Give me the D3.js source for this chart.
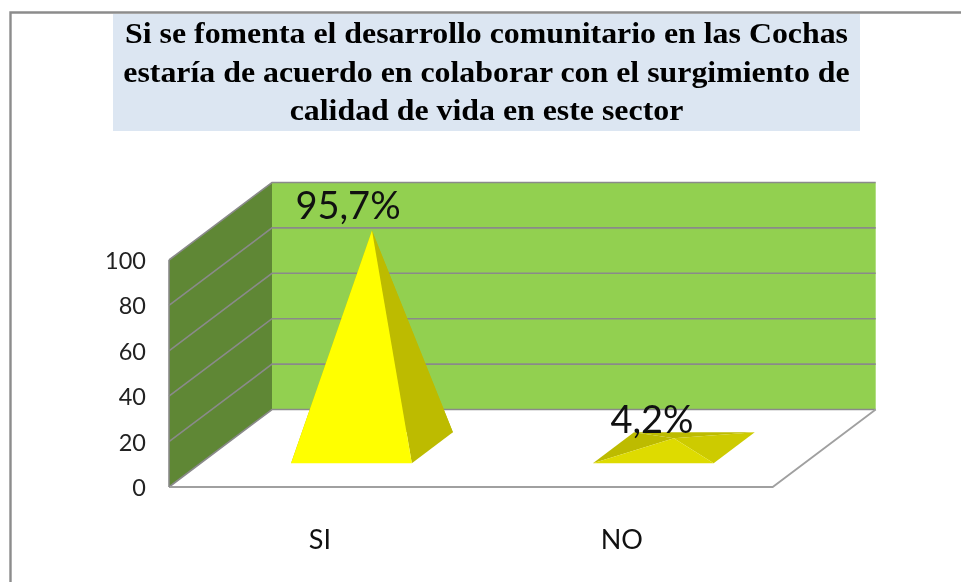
<!DOCTYPE html>
<html><head><meta charset="utf-8">
<script src="https://cdn.jsdelivr.net/npm/d3@7"></script>
<style>html,body{margin:0;padding:0;background:#fff;overflow:hidden}svg{display:block;filter:blur(0.45px)}</style>
</head><body><div id="c"></div>
<script>
const categories = ["SI", "NO"];
const values = [95.7, 4.2];
const valueLabels = ["95,7%", "4,2%"];
const yTicks = [0, 20, 40, 60, 80, 100];
const titleLines = [
  "Si se fomenta el desarrollo comunitario en las Cochas",
  "estaría de acuerdo en colaborar con el surgimiento de",
  "calidad de vida en este sector"
];

const W = 961, H = 582;
const svg = d3.select("#c").append("svg").attr("width", W).attr("height", H);

// Frame
svg.append("path").attr("d", "M961,12.5H10.5V582").attr("fill", "none").attr("stroke", "#8c8c8c").attr("stroke-width", 2.4);

// Title
svg.append("rect").attr("x", 113).attr("y", 14).attr("width", 747).attr("height", 117).attr("fill", "#dce6f2");
svg.append("g").selectAll("text").data(titleLines).join("text")
  .attr("transform", (d, i) => `translate(486.5,${43 + i * 38.5}) scale(1.08,1)`)
  .attr("text-anchor", "middle")
  .attr("font-family", "'Liberation Serif', serif").attr("font-weight", "bold")
  .attr("font-size", 29.5).attr("fill", "#000").text(d => d);

// 3D projection: x along category axis, y value, depth t in 0..1
const x = d3.scaleBand().domain(categories).range([169, 772.7]);
const y = d3.scaleLinear().domain([0, 100]).range([487, 260]);
const depthX = d3.scaleLinear().domain([0, 1]).range([0, 103]);
const depthY = d3.scaleLinear().domain([0, 1]).range([0, -77.5]);
const proj = (px, v, t) => [px + depthX(t), y(v) + depthY(t)];
const poly = pts => "M" + pts.map(p => p.join(",")).join("L") + "Z";
const x0 = x.range()[0], x1 = x.range()[1];
const yMax = yTicks[yTicks.length - 1];

// Back wall
svg.append("path").attr("d", poly([proj(x0,0,1), proj(x1,0,1), proj(x1,yMax,1), proj(x0,yMax,1)])).attr("fill", "#92d050");
// Side wall
svg.append("path").attr("d", poly([proj(x0,0,0), proj(x0,0,1), proj(x0,yMax,1), proj(x0,yMax,0)])).attr("fill", "#5f8735");

// Gridlines
const line = d3.line();
svg.append("g").selectAll("path").data(yTicks).join("path")
  .attr("d", v => line([proj(x0,v,0), proj(x0,v,1), proj(x1,v,1)]))
  .attr("fill", "none").attr("stroke", "#8a8a8a").attr("stroke-width", 1.6);
// Floor outline and left edge
svg.append("path").attr("d", line([proj(x0,0,0), proj(x1,0,0), proj(x1,0,1)])).attr("fill", "none").attr("stroke", "#a0a0a0").attr("stroke-width", 1.8);
svg.append("path").attr("d", line([proj(x0,0,0), proj(x0,yMax,0)])).attr("fill", "none").attr("stroke", "#8a8a8a").attr("stroke-width", 1.6);

// Y labels
svg.append("g").selectAll("text").data(yTicks).join("text")
  .attr("x", 146).attr("y", v => y(v) + 9)
  .attr("text-anchor", "end").attr("font-family", "Lato, 'Open Sans', sans-serif")
  .attr("font-size", 23.5).attr("fill", "#222").text(v => v);

// Pyramids
const barW = x.bandwidth() * 0.4;
const tF = 0.306, tB = 0.705, tM = (tF + tB) / 2;
const colors = [
  {front:"#ffff00", right:"#bdbb00", left:"#bdbb00", back:"#bdbb00"},
  {front:"#dedb00", right:"#cdcb00", left:"#bdbb00", back:"#bdbb00"}
];
categories.forEach((c, i) => {
  const cx = x(c) + x.bandwidth() / 2;
  const l = cx - barW / 2, r = cx + barW / 2;
  const FL = proj(l,0,tF), FR = proj(r,0,tF), BR = proj(r,0,tB), BL = proj(l,0,tB);
  const apex = proj(cx, values[i], tM);
  const g = svg.append("g");
  g.append("path").attr("d", poly([BL, BR, apex])).attr("fill", colors[i].back);
  g.append("path").attr("d", poly([FL, BL, apex])).attr("fill", colors[i].left);
  g.append("path").attr("d", poly([FR, BR, apex])).attr("fill", colors[i].right);
  g.append("path").attr("d", poly([FL, FR, apex])).attr("fill", colors[i].front);
});

// Value labels
const labelPos = [[348, 219], [652, 433]];
svg.append("g").selectAll("text").data(valueLabels).join("text")
  .attr("x", (d, i) => labelPos[i][0]).attr("y", (d, i) => labelPos[i][1])
  .attr("text-anchor", "middle").attr("font-family", "Lato, 'Open Sans', sans-serif")
  .attr("font-size", 38).attr("fill", "#111").text(d => d);

// Category labels
svg.append("g").selectAll("text").data(categories).join("text")
  .attr("x", c => x(c) + x.bandwidth() / 2).attr("y", 549)
  .attr("text-anchor", "middle").attr("font-family", "Lato, 'Open Sans', sans-serif")
  .attr("font-size", 27).attr("fill", "#111").text(c => c);
</script></body></html>
